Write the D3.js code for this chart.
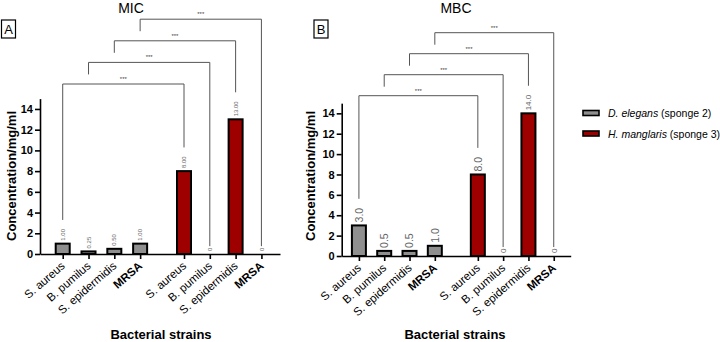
<!DOCTYPE html>
<html>
<head>
    <meta charset="utf-8" />
    <script src="https://d3js.org/d3.v7.min.js"></script>
    <style>
        body { margin: 0; background: #fff; }
        svg { font-family: "Liberation Sans", Arial, sans-serif; }
    </style>
</head>
<body>
    <svg id="chart" width="720" height="342"></svg>

    <script>
        // strains on the x axis, in bar order
        var strains = ["S. aureus", "B. pumilus", "S. epidermidis", "MRSA",
                       "S. aureus", "B. pumilus", "S. epidermidis", "MRSA"];
        // slot of each bar (second sponge group is shifted by a gap)
        var slots = [0, 1, 2, 3, 4.7, 5.7, 6.7, 7.7];
        var sponge = ["D. elegans", "D. elegans", "D. elegans", "D. elegans",
                      "H. manglaris", "H. manglaris", "H. manglaris", "H. manglaris"];

        // concentrations mg/ml
        var micValues = [1.00, 0.25, 0.50, 1.00, 8.00, 0, 13.00, 0];
        var mbcValues = [3.0, 0.5, 0.5, 1.0, 8.0, 0, 14.0, 0];

        var yTicks = [0, 2, 4, 6, 8, 10, 12, 14];

        // comparison brackets (bar index pairs), all ***
        var brackets = [[0, 4], [1, 5], [2, 6], [3, 7]];

        var legendItems = [
            { name: "D. elegans", note: " (sponge 2)" },
            { name: "H. manglaris", note: " (sponge 3)" }
        ];

        var colour = d3.scaleOrdinal()
            .domain(["D. elegans", "H. manglaris"])
            .range(["#8f8f8f", "#9e0000"]);

        var svg = d3.select("#chart");

        // draw one panel
        function drawPanel(opt) {
            var g = svg.append("g");

            var x = d3.scaleLinear().domain(opt.xDomain).range(opt.xRange);
            var y = d3.scaleLinear().domain([0, 15]).range([opt.y0, opt.y0 - 15 * opt.unit]);

            // title
            g.append("text")
                .attr("x", opt.titleX)
                .attr("y", 12.5)
                .attr("text-anchor", "middle")
                .style("font-size", "14px")
                .text(opt.title);

            // panel letter box
            g.append("rect")
                .attr("x", opt.boxX).attr("y", 20)
                .attr("width", 14).attr("height", 18)
                .attr("fill", "none").attr("stroke", "#000").attr("stroke-width", 1.2);
            g.append("text")
                .attr("x", opt.boxX + 7).attr("y", 34)
                .attr("text-anchor", "middle")
                .style("font-size", "13px")
                .text(opt.letter);

            // y axis
            var yAxis = g.append("g")
                .attr("transform", "translate(" + opt.xRange[0] + ",0)")
                .call(d3.axisLeft(y).tickValues(yTicks).tickSize(5).tickSizeOuter(0));
            yAxis.select(".domain").attr("stroke-width", 1.6);
            yAxis.selectAll(".tick line").attr("stroke-width", 1.6);
            yAxis.selectAll(".tick text")
                .attr("x", -7)
                .style("font-size", "11px")
                .style("font-weight", "bold")
                .style("font-family", "Liberation Sans, Arial, sans-serif");

            // y label
            g.append("text")
                .attr("transform", "translate(" + opt.yLabelX + "," + 176 + ") rotate(-90)")
                .attr("text-anchor", "middle")
                .style("font-size", "13px")
                .style("font-weight", "bold")
                .text("Concentration/mg/ml");

            // x axis
            var xAxis = g.append("g")
                .attr("transform", "translate(0," + opt.y0 + ")")
                .call(d3.axisBottom(x).tickValues(slots).tickSize(5).tickSizeOuter(0).tickFormat(""));
            xAxis.select(".domain").attr("stroke-width", 1.6);
            xAxis.selectAll(".tick line").attr("stroke-width", 1.6);

            // x tick labels
            g.selectAll(".xlab")
                .data(strains)
                .enter().append("text")
                .attr("transform", function (d, i) {
                    return "translate(" + (x(slots[i]) + 3) + "," + (opt.y0 + 13) + ") rotate(-41)";
                })
                .attr("text-anchor", "end")
                .style("font-size", "11.5px")
                .style("font-weight", d => d === "MRSA" ? "bold" : "normal")
                .text(d => d);

            // x label
            g.append("text")
                .attr("x", opt.xLabelX)
                .attr("y", 339)
                .attr("text-anchor", "middle")
                .style("font-size", "13px")
                .style("font-weight", "bold")
                .text("Bacterial strains");

            // bars
            g.selectAll(".bar")
                .data(opt.values)
                .enter().append("rect")
                .attr("x", (d, i) => x(slots[i]) - 7)
                .attr("y", d => y(d))
                .attr("width", 14)
                .attr("height", d => opt.y0 - y(d))
                .attr("fill", (d, i) => colour(sponge[i]))
                .attr("stroke", "#000")
                .attr("stroke-width", d => d > 0 ? 2 : 0);

            // value labels
            var labelTop = [];
            g.selectAll(".val")
                .data(opt.values)
                .enter().append("text")
                .each(function (d, i) {
                    var fs = opt.labelSize(d);
                    d3.select(this)
                        .attr("transform", "translate(" + (x(slots[i]) + fs * 0.36) + "," + (y(d) - 3) + ") rotate(-90)")
                        .style("font-size", fs + "px")
                        .attr("fill", "#666")
                        .text(d === 0 ? "0" : opt.fmt(d));
                    labelTop[i] = y(d) - 3 - this.getComputedTextLength();
                });

            // significance brackets
            brackets.forEach(function (b, k) {
                var hy = opt.bracketY - k * opt.bracketStep;
                var x1 = x(slots[b[0]]), x2 = x(slots[b[1]]);
                var gap1 = opt.values[b[0]] === 0 ? 1.5 : 9;
                var gap2 = opt.values[b[1]] === 0 ? 1.5 : 9;
                var leftEnd = k === 0 ? labelTop[b[0]] - gap1 : hy + 12;
                var rightEnd = labelTop[b[1]] - gap2;
                g.append("path")
                    .attr("d", "M" + x1 + "," + leftEnd + "V" + hy + "H" + x2 + "V" + rightEnd)
                    .attr("fill", "none")
                    .attr("stroke", "#555")
                    .attr("stroke-width", 1);
                g.append("text")
                    .attr("x", (x1 + x2) / 2)
                    .attr("y", hy - 3)
                    .attr("text-anchor", "middle")
                    .style("font-size", "6px")
                    .attr("fill", "#444")
                    .text("***");
            });
        }

        drawPanel({
            title: "MIC", titleX: 131, letter: "A", boxX: 1.5,
            xDomain: [-0.88, 8.42], xRange: [40, 280],
            y0: 254, unit: 10.36,
            yLabelX: 16, xLabelX: 161,
            values: micValues, fmt: d3.format(".2f"), labelSize: d => 6,
            bracketY: 84, bracketStep: 21.6
        });

        drawPanel({
            title: "MBC", titleX: 456, letter: "B", boxX: 314,
            xDomain: [-0.68, 8.37], xRange: [341.7, 570.7],
            y0: 256, unit: 10.19,
            yLabelX: 315, xLabelX: 455,
            values: mbcValues, fmt: d3.format(".1f"),
            labelSize: d => d === 0 ? 8 : (d >= 10 ? 8 : 10.5),
            bracketY: 95.7, bracketStep: 21
        });

        // legend
        var legend = svg.append("g").attr("transform", "translate(583,113)");
        legendItems.forEach(function (d, i) {
            var row = legend.append("g").attr("transform", "translate(0," + i * 20.5 + ")");
            row.append("rect")
                .attr("x", 0).attr("y", -2.5)
                .attr("width", 16).attr("height", 5)
                .attr("fill", colour(d.name))
                .attr("stroke", "#000").attr("stroke-width", 1.6);
            var t = row.append("text")
                .attr("x", 25).attr("y", 4)
                .style("font-size", "10.5px");
            t.append("tspan").style("font-style", "italic").text(d.name);
            t.append("tspan").text(d.note);
        });
    </script>
</body>
</html>
